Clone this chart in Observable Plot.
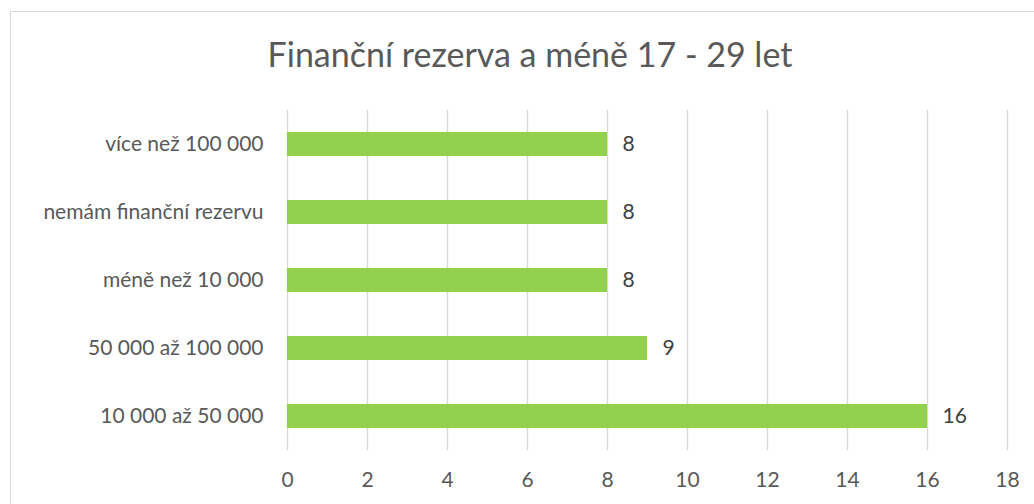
<!DOCTYPE html>
<html>
<head>
<meta charset="utf-8">
<script src="https://cdn.jsdelivr.net/npm/d3@7"></script>
<script src="https://cdn.jsdelivr.net/npm/@observablehq/plot@0.6"></script>
<style>
  html, body { margin: 0; padding: 0; background: #fff; overflow: hidden; }
  #wrap { position: relative; width: 1034px; height: 504px; overflow: hidden; font-family: Lato, "Open Sans", sans-serif; }
  #frame { position: absolute; left: 10px; top: 11px; width: 1100px; height: 600px; border: 1.5px solid #d9d9d9; box-sizing: border-box; }
  #title { position: absolute; left: 0; width: 1060px; top: 33px; text-align: center; font-size: 34px; color: #595959; }
  #chart { position: absolute; left: 0; top: 0; }
</style>
</head>
<body>
<div id="wrap">
  <div id="frame"></div>
  <div id="title">Finanční rezerva a méně 17 - 29 let</div>
  <div id="chart"></div>
</div>
<script>
const categories = ["více než 100 000", "nemám finanční rezervu", "méně než 10 000", "50 000 až 100 000", "10 000 až 50 000"];
const values = [8, 8, 8, 9, 16];
const xTicks = [0, 2, 4, 6, 8, 10, 12, 14, 16, 18];

const data = categories.map((c, i) => ({category: c, value: values[i]}));

const chart = Plot.plot({
  width: 1034,
  height: 504,
  marginLeft: 287,
  marginRight: 27,
  marginTop: 110,
  marginBottom: 54,
  style: {fontFamily: "Lato, 'Open Sans', sans-serif", fontSize: "21px", color: "#595959", background: "transparent"},
  x: {domain: [0, 18], ticks: xTicks, label: null},
  y: {domain: categories, padding: 0, label: null},
  marks: [
    Plot.gridX(xTicks, {stroke: "#d9d9d9", strokeOpacity: 1, strokeWidth: 1.5}),
    Plot.barX(data, {x: "value", y: "category", fill: "#92d050", insetTop: 22, insetBottom: 22}),
    Plot.text(data, {x: "value", y: "category", text: d => String(d.value), textAnchor: "start", dx: 15, fill: "#404040", fontSize: 21}),
    Plot.axisX(xTicks, {tickSize: 0, tickPadding: 22, fontSize: 21, fill: "#595959"}),
    Plot.axisY({tickSize: 0, tickPadding: 24, fontSize: 21, fill: "#595959"})
  ]
});
document.getElementById("chart").appendChild(chart);
</script>
</body>
</html>
